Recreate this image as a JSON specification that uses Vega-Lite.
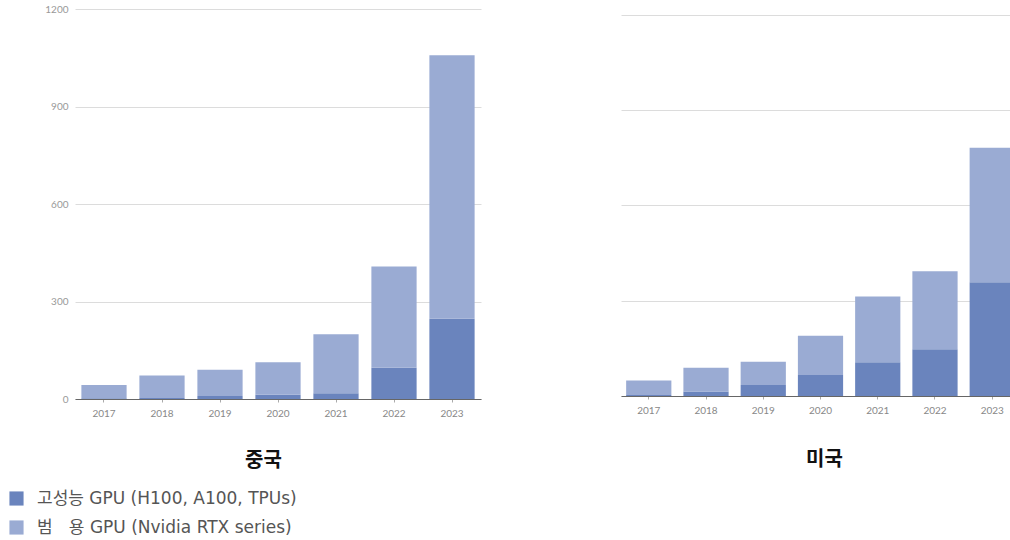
{
  "$schema": "https://vega.github.io/schema/vega-lite/v6.json",
  "padding": {"left": 8, "top": 4, "right": 0, "bottom": 0},
  "background": "white",
  "datasets": {
    "china": [
      {"year": "2017", "type": "고성능 GPU (H100, A100, TPUs)", "value": 2},
      {"year": "2017", "type": "범\u00a0\u00a0\u00a0용 GPU (Nvidia RTX series)", "value": 41},
      {"year": "2018", "type": "고성능 GPU (H100, A100, TPUs)", "value": 3},
      {"year": "2018", "type": "범\u00a0\u00a0\u00a0용 GPU (Nvidia RTX series)", "value": 69},
      {"year": "2019", "type": "고성능 GPU (H100, A100, TPUs)", "value": 9},
      {"year": "2019", "type": "범\u00a0\u00a0\u00a0용 GPU (Nvidia RTX series)", "value": 81},
      {"year": "2020", "type": "고성능 GPU (H100, A100, TPUs)", "value": 13},
      {"year": "2020", "type": "범\u00a0\u00a0\u00a0용 GPU (Nvidia RTX series)", "value": 100},
      {"year": "2021", "type": "고성능 GPU (H100, A100, TPUs)", "value": 18},
      {"year": "2021", "type": "범\u00a0\u00a0\u00a0용 GPU (Nvidia RTX series)", "value": 181},
      {"year": "2022", "type": "고성능 GPU (H100, A100, TPUs)", "value": 96},
      {"year": "2022", "type": "범\u00a0\u00a0\u00a0용 GPU (Nvidia RTX series)", "value": 312},
      {"year": "2023", "type": "고성능 GPU (H100, A100, TPUs)", "value": 247},
      {"year": "2023", "type": "범\u00a0\u00a0\u00a0용 GPU (Nvidia RTX series)", "value": 811}
    ],
    "usa": [
      {"year": "2017", "type": "고성능 GPU (H100, A100, TPUs)", "value": 3},
      {"year": "2017", "type": "범\u00a0\u00a0\u00a0용 GPU (Nvidia RTX series)", "value": 46},
      {"year": "2018", "type": "고성능 GPU (H100, A100, TPUs)", "value": 14},
      {"year": "2018", "type": "범\u00a0\u00a0\u00a0용 GPU (Nvidia RTX series)", "value": 75},
      {"year": "2019", "type": "고성능 GPU (H100, A100, TPUs)", "value": 35},
      {"year": "2019", "type": "범\u00a0\u00a0\u00a0용 GPU (Nvidia RTX series)", "value": 73},
      {"year": "2020", "type": "고성능 GPU (H100, A100, TPUs)", "value": 66},
      {"year": "2020", "type": "범\u00a0\u00a0\u00a0용 GPU (Nvidia RTX series)", "value": 124},
      {"year": "2021", "type": "고성능 GPU (H100, A100, TPUs)", "value": 106},
      {"year": "2021", "type": "범\u00a0\u00a0\u00a0용 GPU (Nvidia RTX series)", "value": 207},
      {"year": "2022", "type": "고성능 GPU (H100, A100, TPUs)", "value": 147},
      {"year": "2022", "type": "범\u00a0\u00a0\u00a0용 GPU (Nvidia RTX series)", "value": 246},
      {"year": "2023", "type": "고성능 GPU (H100, A100, TPUs)", "value": 358},
      {"year": "2023", "type": "범\u00a0\u00a0\u00a0용 GPU (Nvidia RTX series)", "value": 423}
    ]
  },
  "bounds": "flush",
  "spacing": 140,
  "resolve": {"legend": {"color": "independent"}},
  "hconcat": [
    {
      "width": 406,
      "height": 390,
      "data": {"name": "china"},
      "mark": {"type": "bar"},
      "encoding": {
        "x": {
          "field": "year", "type": "ordinal",
          "scale": {"paddingInner": 0.22, "paddingOuter": 0.11},
          "axis": {
            "labelAngle": 0, "labelFont": "Lato", "labelFontSize": 10, "labelColor": "#888",
            "labelPadding": 6, "domainColor": "#666", "tickColor": "#aaa", "tickSize": 3,
            "title": "중국", "titleFont": "Noto Sans CJK KR", "titleFontSize": 20, "titleFontWeight": "bold",
            "titleColor": "#111", "titleX": 188, "titleY": 61, "titleBaseline": "middle", "titleAlign": "center"
          }
        },
        "y": {
          "field": "value", "type": "quantitative", "stack": "zero",
          "scale": {"domain": [0, 1200], "nice": false},
          "axis": {
            "values": [0, 300, 600, 900, 1200], "format": "d", "title": null, "domain": false, "ticks": false,
            "labelPadding": 7, "labelFont": "Lato", "labelFontSize": 10, "labelColor": "#999",
            "gridColor": "#dcdcdc"
          }
        },
        "color": {
          "field": "type", "type": "nominal",
          "scale": {
            "domain": ["고성능 GPU (H100, A100, TPUs)", "범\u00a0\u00a0\u00a0용 GPU (Nvidia RTX series)"],
            "range": ["#6a84bd", "#9aabd3"]
          },
          "legend": {
            "orient": "none", "legendX": -67, "legendY": 481, "title": null,
            "symbolType": "square", "symbolSize": 200, "symbolStrokeWidth": 0,
            "labelFont": "DejaVu Sans, Noto Sans CJK KR", "labelFontSize": 17, "labelColor": "#555",
            "labelOffset": 12, "rowPadding": 11, "labelLimit": 400
          }
        },
        "order": {"field": "type", "sort": "ascending"}
      }
    },
    {
      "width": 399,
      "height": 387,
      "data": {"name": "usa"},
      "mark": {"type": "bar"},
      "encoding": {
        "x": {
          "field": "year", "type": "ordinal",
          "scale": {"paddingInner": 0.21, "paddingOuter": 0.09},
          "axis": {
            "labelAngle": 0, "labelFont": "Lato", "labelFontSize": 10, "labelColor": "#888",
            "labelPadding": 6, "domainColor": "#666", "tickColor": "#aaa", "tickSize": 3,
            "title": "미국", "titleFont": "Noto Sans CJK KR", "titleFontSize": 20, "titleFontWeight": "bold",
            "titleColor": "#111", "titleX": 203, "titleY": 63, "titleBaseline": "middle", "titleAlign": "center"
          }
        },
        "y": {
          "field": "value", "type": "quantitative", "stack": "zero",
          "scale": {"domain": [0, 1218], "nice": false},
          "axis": {
            "values": [0, 300, 600, 900, 1200], "title": null, "domain": false, "ticks": false,
            "labels": false, "gridColor": "#dcdcdc"
          }
        },
        "color": {
          "field": "type", "type": "nominal",
          "scale": {
            "domain": ["고성능 GPU (H100, A100, TPUs)", "범\u00a0\u00a0\u00a0용 GPU (Nvidia RTX series)"],
            "range": ["#6a84bd", "#9aabd3"]
          },
          "legend": null
        },
        "order": {"field": "type", "sort": "ascending"}
      }
    }
  ],
  "config": {"view": {"stroke": null}}
}
